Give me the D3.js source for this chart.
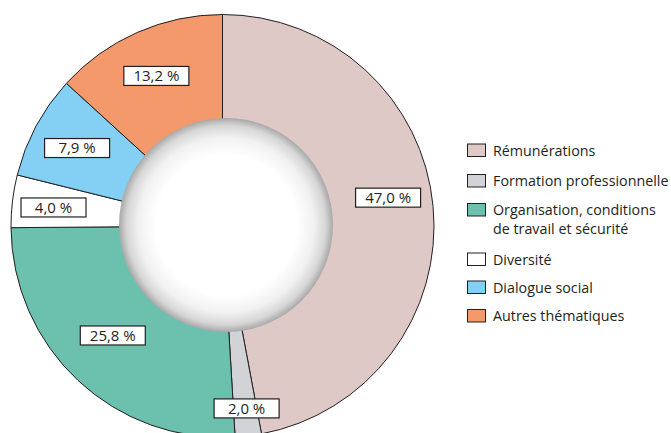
<!DOCTYPE html>
<html>
<head>
<meta charset="utf-8">
<script src="https://cdn.jsdelivr.net/npm/d3@7"></script>
<style>
  html, body { margin: 0; padding: 0; background: #ffffff; }
  svg { display: block; }
  text { font-family: "Open Sans", "Noto Sans", sans-serif; fill: #231f20; }
</style>
</head>
<body>
<svg id="chart" width="671" height="433"></svg>
<script>
// Répartition des accords par thématique (%)
const categories = [
  "Rémunérations",
  "Formation professionnelle",
  "Organisation, conditions de travail et sécurité",
  "Diversité",
  "Dialogue social",
  "Autres thématiques"
];
const values = [47.0, 2.0, 25.8, 4.0, 7.9, 13.2];
const valueLabels = ["47,0 %", "2,0 %", "25,8 %", "4,0 %", "7,9 %", "13,2 %"];
const legendLines = [
  ["Rémunérations"],
  ["Formation professionnelle"],
  ["Organisation, conditions", "de travail et sécurité"],
  ["Diversité"],
  ["Dialogue social"],
  ["Autres thématiques"]
];
const colors = ["#dfc9c7", "#d1d3d6", "#6bc1ad", "#ffffff", "#84d0f4", "#f3996b"];

// Label placement: distance from centre and small angular nudge (degrees)
const labelRadius = [168, 184, 155, 170, 165, 164];
const labelNudge = [-4.4, -0.5, 2, -0.5, 0, 0];

const svg = d3.select("#chart");
const cx = 222.5, cy = 226, outerR = 211.5;
const holeCx = 226, holeCy = 225, holeR = 107;

const defs = svg.append("defs");
const grad = defs.append("radialGradient")
  .attr("id", "hole")
  .attr("cx", "50%").attr("cy", "50%").attr("r", "50%");
[[0, "#ffffff"], [0.66, "#ffffff"], [0.82, "#f1f1f1"], [0.93, "#d6d6d6"], [1, "#a8a8a8"]]
  .forEach(([o, c]) => grad.append("stop").attr("offset", o).attr("stop-color", c));

const pie = d3.pie().sort(null).value(d => d).startAngle(0).endAngle(2 * Math.PI);
const arcs = pie(values);
const arc = d3.arc().innerRadius(0).outerRadius(outerR);

const g = svg.append("g").attr("transform", `translate(${cx},${cy})`);

g.selectAll("path.slice")
  .data(arcs)
  .join("path")
  .attr("class", "slice")
  .attr("d", arc)
  .attr("fill", (d, i) => colors[i])
  .attr("stroke", "#231f20")
  .attr("stroke-width", 1)
  .attr("stroke-linejoin", "round");

// Central disc with a soft rim
svg.append("circle")
  .attr("cx", holeCx).attr("cy", holeCy).attr("r", holeR)
  .attr("fill", "url(#hole)");

// Value labels in boxes
const boxW = 65, boxH = 19;
const labels = g.selectAll("g.lbl")
  .data(arcs)
  .join("g")
  .attr("class", "lbl")
  .attr("transform", (d, i) => {
    const a = (d.startAngle + d.endAngle) / 2 + labelNudge[i] * Math.PI / 180;
    const r = labelRadius[i];
    return `translate(${r * Math.sin(a)},${-r * Math.cos(a)})`;
  });
labels.append("rect")
  .attr("x", -boxW / 2).attr("y", -boxH / 2)
  .attr("width", boxW).attr("height", boxH)
  .attr("fill", "#ffffff")
  .attr("stroke", "#231f20")
  .attr("stroke-width", 1.2);
labels.append("text")
  .attr("text-anchor", "middle")
  .attr("dy", "0.36em")
  .attr("font-size", 15)
  .text((d, i) => valueLabels[i]);

// Legend
const legendRows = [144, 174.5, 203.5, 253, 281, 309.5];
const legend = svg.append("g").attr("transform", "translate(467.5,0)");
const items = legend.selectAll("g.item")
  .data(categories)
  .join("g")
  .attr("class", "item")
  .attr("transform", (d, i) => `translate(0,${legendRows[i]})`);
items.append("rect")
  .attr("width", 18).attr("height", 12.5)
  .attr("fill", (d, i) => colors[i])
  .attr("stroke", "#231f20")
  .attr("stroke-width", 1);
items.each(function (d, i) {
  const t = d3.select(this).append("text")
    .attr("x", 25.5)
    .attr("y", 6.5)
    .attr("font-size", 14.3);
  legendLines[i].forEach((line, j) => {
    t.append("tspan")
      .attr("x", 25.5)
      .attr("dy", j === 0 ? "0.36em" : 18.5)
      .text(line);
  });
});
</script>
</body>
</html>
